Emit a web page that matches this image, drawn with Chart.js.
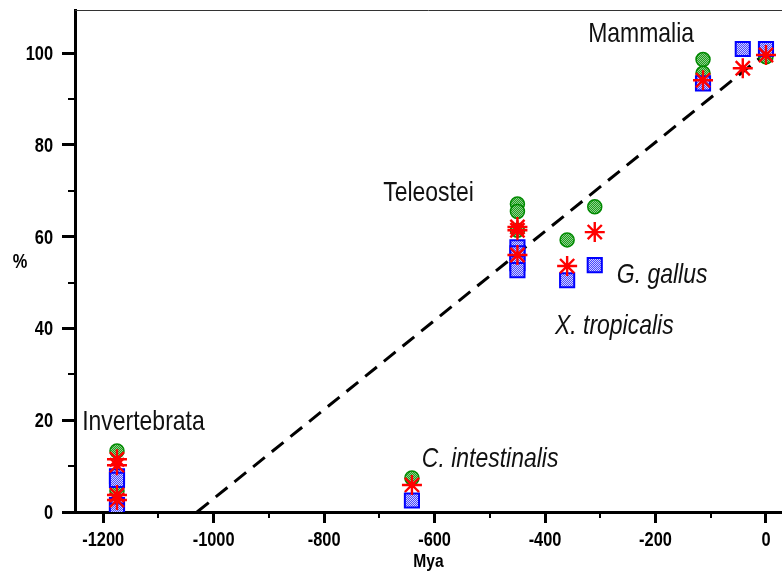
<!DOCTYPE html>
<html>
<head>
<meta charset="utf-8">
<script src="https://cdn.jsdelivr.net/npm/chart.js@4/dist/chart.umd.min.js"></script>
<style>
  html, body { margin: 0; padding: 0; background: #fff; }
</style>
</head>
<body>
<canvas id="grafico" width="782" height="575"></canvas>
<script>
// circulos verdes
const xVerde = [-1175, -1175, -641, -450, -450, -450, -360, -310, -114, -114, 0];
const yVerde = [13.3, 4.6, 7.4, 67.1, 65.5, 61.4, 59.3, 66.5, 98.6, 95.6, 99.2];
// estrellas rojas
const xRojo = [-1175, -1175, -1175, -1175, -641, -450, -450, -450, -360, -310, -114, -42, 0];
const yRojo = [11.5, 10.2, 3.7, 2.6, 5.9, 62.1, 61.4, 56.0, 53.6, 61.0, 94.1, 96.7, 99.6];
// cuadrados azules
const xAzul = [-1175, -1175, -1175, -1175, -641, -450, -450, -450, -450, -360, -310, -114, -42, 0];
const yAzul = [7.8, 7.0, 1.5, 0.3, 2.5, 57.7, 56.4, 54.2, 52.7, 50.5, 53.8, 93.4, 100.9, 100.9];
// recta de referencia
const xRecta = [-1030, 0];
const yRecta = [0, 100];

const ticksX = [-1200, -1000, -800, -600, -400, -200, 0];
const menoresX = [-1100, -900, -700, -500, -300, -100];
const ticksY = [0, 20, 40, 60, 80, 100];
const menoresY = [10, 30, 50, 70, 90];

const textos = ['Invertebrata', 'Teleostei', 'Mammalia', 'C. intestinalis', 'G. gallus', 'X. tropicalis'];
const textosX = [-1238, -693, -322, -623, -270, -382];
const textosY = [17.9, 67.8, 102.5, 9.8, 49.9, 38.8];
const textosItalica = [false, false, false, true, true, true];

const fuente = "'Liberation Sans', Arial, sans-serif";
const angosto = 0.82; // el original usa letra estrecha

function puntos(xs, ys) {
    return xs.map((x, i) => ({ x: x, y: ys[i] }));
}

function trama(fondo, punto) {
    const c = document.createElement('canvas');
    c.width = 2; c.height = 2;
    const g = c.getContext('2d');
    g.fillStyle = fondo; g.fillRect(0, 0, 2, 2);
    g.fillStyle = punto; g.fillRect(0, 0, 1, 1); g.fillRect(1, 1, 1, 1);
    return g.createPattern(c, 'repeat');
}

function texto(ctx, t, x, y, align) {
    ctx.save();
    ctx.translate(x, y);
    ctx.scale(angosto, 1);
    ctx.textAlign = align;
    ctx.fillText(t, 0, 0);
    ctx.restore();
}

const extras = {
    id: 'extras',
    afterDraw(chart) {
        const { ctx, chartArea, scales: { x, y } } = chart;
        ctx.save();
        ctx.strokeStyle = '#000';
        ctx.lineWidth = 2;
        ctx.beginPath();
        menoresX.forEach(v => {
            const px = Math.round(x.getPixelForValue(v));
            ctx.moveTo(px, chartArea.bottom);
            ctx.lineTo(px, chartArea.bottom + 6);
        });
        menoresY.forEach(v => {
            const py = Math.round(y.getPixelForValue(v));
            ctx.moveTo(chartArea.left - 7, py);
            ctx.lineTo(chartArea.left, py);
        });
        ctx.stroke();

        // linea fina arriba
        ctx.strokeStyle = '#333';
        ctx.lineWidth = 1;
        ctx.beginPath();
        ctx.moveTo(chartArea.left, chartArea.top + 0.5);
        ctx.lineTo(chartArea.right, chartArea.top + 0.5);
        ctx.stroke();

        // etiquetas de los ejes
        ctx.fillStyle = '#000';
        ctx.textBaseline = 'alphabetic';
        ctx.font = 'bold 20px ' + fuente;
        ticksX.forEach(v => texto(ctx, String(v), x.getPixelForValue(v), chartArea.bottom + 34, 'center'));
        ticksY.forEach(v => texto(ctx, String(v), chartArea.left - 22, y.getPixelForValue(v) + 7, 'right'));
        ctx.font = 'bold 19px ' + fuente;
        texto(ctx, 'Mya', (chartArea.left + chartArea.right) / 2, 567, 'center');
        ctx.font = 'bold 20px ' + fuente;
        texto(ctx, '%', 20, (chartArea.top + chartArea.bottom) / 2 + 7, 'center');

        // nombres
        ctx.fillStyle = '#111';
        textos.forEach((t, i) => {
            ctx.font = (textosItalica[i] ? 'italic ' : '') + '28px ' + fuente;
            texto(ctx, t, x.getPixelForValue(textosX[i]), y.getPixelForValue(textosY[i]), 'left');
        });
        ctx.restore();
    }
};

const config = {
    type: 'scatter',
    data: {
        datasets: [{
            label: 'rojo',
            data: puntos(xRojo, yRojo),
            pointStyle: 'star',
            pointRadius: 10,
            borderColor: '#ff0000',
            backgroundColor: '#ff0000',
            pointBorderWidth: 2.4,
            order: 1
        }, {
            label: 'azul',
            data: puntos(xAzul, yAzul),
            pointStyle: 'rect',
            pointRadius: 10,
            borderColor: '#0000ff',
            backgroundColor: trama('#4a4aff', '#d0d0ff'),
            pointBorderWidth: 2,
            order: 2
        }, {
            label: 'verde',
            data: puntos(xVerde, yVerde),
            pointStyle: 'circle',
            pointRadius: 7,
            borderColor: '#008a00',
            backgroundColor: trama('#1e9e1e', '#8fd08f'),
            pointBorderWidth: 1.5,
            order: 3
        }, {
            type: 'line',
            label: 'recta',
            data: puntos(xRecta, yRecta),
            borderColor: '#000',
            borderWidth: 3,
            borderDash: [15, 9],
            pointRadius: 0,
            fill: false,
            order: 4
        }]
    },
    options: {
        responsive: false,
        animation: false,
        layout: { autoPadding: false, padding: { top: 10, right: 0, left: 0, bottom: 0 } },
        plugins: { legend: { display: false }, tooltip: { enabled: false } },
        scales: {
            x: {
                type: 'linear',
                min: -1251,
                max: 29,
                afterBuildTicks: s => { s.ticks = ticksX.map(v => ({ value: v })); },
                afterFit: s => { s.height = 63; s.paddingLeft = 0; s.paddingRight = 0; },
                grid: { drawOnChartArea: false, tickLength: 11, tickWidth: 3, tickColor: '#000' },
                border: { color: '#000', width: 3 },
                ticks: { display: false }
            },
            y: {
                type: 'linear',
                min: 0,
                max: 109.4,
                afterBuildTicks: s => { s.ticks = ticksY.map(v => ({ value: v })); },
                afterFit: s => { s.width = 75; s.paddingTop = 0; s.paddingBottom = 0; },
                grid: { drawOnChartArea: false, tickLength: 13, tickWidth: 3, tickColor: '#000' },
                border: { color: '#000', width: 3 },
                ticks: { display: false }
            }
        }
    },
    plugins: [extras]
};

new Chart(document.getElementById('grafico'), config);
</script>
</body>
</html>
